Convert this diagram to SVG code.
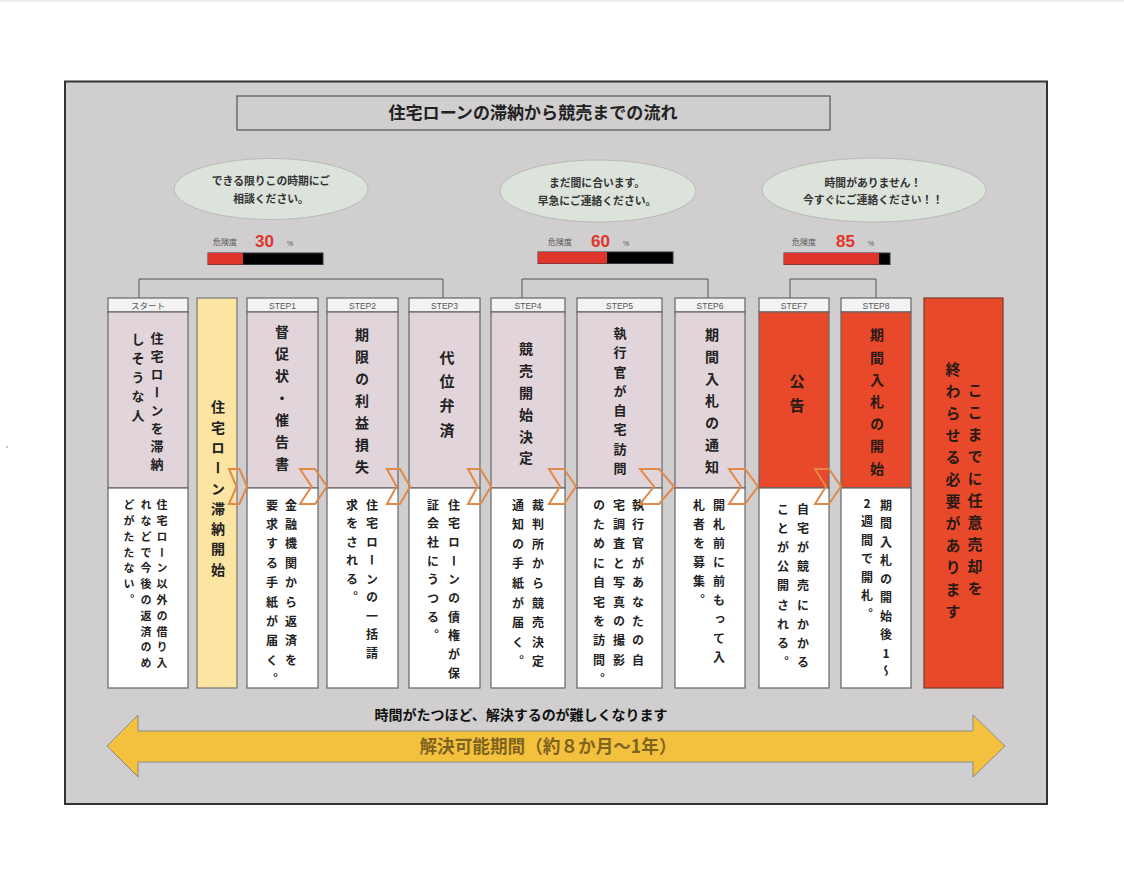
<svg xmlns="http://www.w3.org/2000/svg" width="1124" height="890" viewBox="0 0 1124 890">
<style>
.jp{font-family:"Noto Sans CJK JP","Noto Sans",sans-serif;}
.b{font-weight:bold;}
.vt{font-family:"Noto Sans CJK JP","Noto Sans",sans-serif;font-weight:bold;writing-mode:vertical-rl;fill:#222;}
.hd{fill:#f3f3f3;stroke:#666;stroke-width:1.2;}
.up{fill:#e1d4da;stroke:#666;stroke-width:1.2;}
.upr{fill:#e8492a;stroke:#666;stroke-width:1.2;}
.lo{fill:#ffffff;stroke:#666;stroke-width:1.2;}
.lbl{font-family:"Liberation Sans","Noto Sans CJK JP",sans-serif;font-size:8.5px;fill:#555;text-anchor:middle;}
.ell{fill:#dce3db;stroke:#b9b9b9;stroke-width:1;}
.et{font-family:"Noto Sans CJK JP",sans-serif;font-weight:bold;font-size:10.8px;fill:#333;text-anchor:middle;}
.gk{font-family:"Noto Sans CJK JP",sans-serif;font-size:8px;fill:#555;}
.gn{font-family:"Liberation Sans","Noto Sans",sans-serif;font-weight:bold;font-size:17px;fill:#e0352a;}
.gp{font-family:"Liberation Sans",sans-serif;font-size:7px;fill:#555;}
.chev{fill:none;stroke:#e2894a;stroke-width:2;stroke-linejoin:miter;}
.br{fill:none;stroke:#555;stroke-width:1;}
</style>
<rect x="0" y="0" width="1124" height="890" fill="#ffffff"/>
<rect x="0" y="0" width="1124" height="2" fill="#ececec"/>
<circle cx="7" cy="447" r="0.7" fill="#666"/>
<rect x="65" y="81.5" width="982" height="722.5" fill="#d0cecf" stroke="#333" stroke-width="2"/>

<g id="title">
<rect x="237" y="96" width="593" height="34" fill="#d0cecf" stroke="#555" stroke-width="1.2"/>
<text x="533" y="119" class="jp b" font-size="16.5" fill="#222" text-anchor="middle" textLength="289" lengthAdjust="spacingAndGlyphs">住宅ローンの滞納から競売までの流れ</text>
</g>

<g id="bubble1">
<ellipse cx="271" cy="189" rx="97" ry="30.5" class="ell"/>
<text x="271" y="185" class="et">できる限りこの時期にご</text>
<text x="271" y="203" class="et">相談ください。</text>
</g>
<g id="bubble2">
<ellipse cx="598" cy="191" rx="98" ry="31" class="ell"/>
<text x="597" y="187" class="et">まだ間に合います。</text>
<text x="597" y="205" class="et">早急にご連絡ください。</text>
</g>
<g id="bubble3">
<ellipse cx="874" cy="190" rx="112" ry="32" class="ell"/>
<text x="873" y="187" class="et">時間がありません！</text>
<text x="873" y="204" class="et">今すぐにご連絡ください！！</text>
</g>

<g id="gauge1">
<text x="213" y="245" class="gk">危険度</text>
<text x="255" y="247" class="gn">30</text>
<text x="287" y="246" class="gp">%</text>
<rect x="208" y="253" width="115" height="11.5" fill="#000" stroke="#334" stroke-width="1"/>
<rect x="208" y="253" width="35" height="11.5" fill="#e0352a"/>
</g>
<g id="gauge2">
<text x="548" y="245" class="gk">危険度</text>
<text x="591" y="247" class="gn">60</text>
<text x="623" y="246" class="gp">%</text>
<rect x="538" y="252" width="135" height="11.5" fill="#000" stroke="#334" stroke-width="1"/>
<rect x="538" y="252" width="69" height="11.5" fill="#e0352a"/>
</g>
<g id="gauge3">
<text x="792" y="245" class="gk">危険度</text>
<text x="836" y="247" class="gn">85</text>
<text x="868" y="246" class="gp">%</text>
<rect x="784" y="253" width="106" height="11.5" fill="#000" stroke="#334" stroke-width="1"/>
<rect x="784" y="253" width="95" height="11.5" fill="#e0352a"/>
</g>

<g id="connectors">
<polyline class="br" points="139,298 139,279 443,279 443,298"/>
<polyline class="br" points="522,298 522,279 708,279 708,298"/>
<polyline class="br" points="790,298 790,279 876,279 876,298"/>
</g>

<g id="start">
<rect x="108" y="298" width="80" height="14" class="hd"/>
<text x="148" y="308.5" class="lbl" style="font-family:'Noto Sans CJK JP',sans-serif">スタート</text>
<rect x="108" y="312" width="80" height="176" class="up"/>
<rect x="108" y="488" width="80" height="200" class="lo"/>
<text x="157" y="331.5" class="vt" font-size="13" letter-spacing="5">住宅ローンを滞納</text>
<text x="138" y="332.5" class="vt" font-size="13" letter-spacing="6">しそうな人</text>
<text x="162" y="499.5" class="vt" font-size="11" letter-spacing="4.8">住宅ローン以外の借り入</text>
<text x="146" y="499.5" class="vt" font-size="11" letter-spacing="4.8">れなどで今後の返済のめ</text>
<text x="129" y="499.5" class="vt" font-size="11" letter-spacing="4.8">どがたたない。</text>
</g>

<g id="delinquency">
<rect x="197" y="298" width="40" height="390" fill="#fce4a2" stroke="#777" stroke-width="1.2"/>
<text x="218" y="400" class="vt" font-size="14" letter-spacing="6.3">住宅ローン滞納開始</text>
</g>

<g id="step1">
<rect x="247" y="298" width="71" height="14" class="hd"/>
<text x="282.5" y="308.5" class="lbl">STEP1</text>
<rect x="247" y="312" width="71" height="176" class="up"/>
<rect x="247" y="488" width="71" height="200" class="lo"/>
<text x="282" y="325" class="vt" font-size="14" letter-spacing="8">督促状・催告書</text>
<text x="291" y="499" class="vt" font-size="12" letter-spacing="7.4">金融機関から返済を</text>
<text x="272" y="499" class="vt" font-size="12" letter-spacing="7.4">要求する手紙が届く。</text>
</g>

<g id="step2">
<rect x="327" y="298" width="71" height="14" class="hd"/>
<text x="362.5" y="308.5" class="lbl">STEP2</text>
<rect x="327" y="312" width="71" height="176" class="up"/>
<rect x="327" y="488" width="71" height="200" class="lo"/>
<text x="362" y="328" class="vt" font-size="14" letter-spacing="8">期限の利益損失</text>
<text x="372" y="499" class="vt" font-size="12" letter-spacing="6.5">住宅ローンの一括請</text>
<text x="352" y="499" class="vt" font-size="12" letter-spacing="6.5">求をされる。</text>
</g>

<g id="step3">
<rect x="409" y="298" width="71" height="14" class="hd"/>
<text x="444.5" y="308.5" class="lbl">STEP3</text>
<rect x="409" y="312" width="71" height="176" class="up"/>
<rect x="409" y="488" width="71" height="200" class="lo"/>
<text x="447" y="349.5" class="vt" font-size="15" letter-spacing="9.4">代位弁済</text>
<text x="454" y="499" class="vt" font-size="12" letter-spacing="6.7">住宅ローンの債権が保</text>
<text x="433" y="499" class="vt" font-size="12" letter-spacing="6.7">証会社にうつる。</text>
</g>

<g id="step4">
<rect x="491" y="298" width="74" height="14" class="hd"/>
<text x="528" y="308.5" class="lbl">STEP4</text>
<rect x="491" y="312" width="74" height="176" class="up"/>
<rect x="491" y="488" width="74" height="200" class="lo"/>
<text x="526" y="342" class="vt" font-size="14" letter-spacing="7.8">競売開始決定</text>
<text x="538" y="499" class="vt" font-size="12" letter-spacing="7.6">裁判所から競売決定</text>
<text x="518" y="499" class="vt" font-size="12" letter-spacing="7.6">通知の手紙が届く。</text>
</g>

<g id="step5">
<rect x="577" y="298" width="85" height="14" class="hd"/>
<text x="619.5" y="308.5" class="lbl">STEP5</text>
<rect x="577" y="312" width="85" height="176" class="up"/>
<rect x="577" y="488" width="85" height="200" class="lo"/>
<text x="620" y="326.5" class="vt" font-size="13" letter-spacing="6.3">執行官が自宅訪問</text>
<text x="638" y="499" class="vt" font-size="12" letter-spacing="7.4">執行官があなたの自</text>
<text x="619" y="499" class="vt" font-size="12" letter-spacing="7.4">宅調査と写真の撮影</text>
<text x="599" y="499" class="vt" font-size="12" letter-spacing="7.4">のために自宅を訪問。</text>
</g>

<g id="step6">
<rect x="675" y="298" width="70" height="14" class="hd"/>
<text x="710" y="308.5" class="lbl">STEP6</text>
<rect x="675" y="312" width="70" height="176" class="up"/>
<rect x="675" y="488" width="70" height="200" class="lo"/>
<text x="712" y="328" class="vt" font-size="14" letter-spacing="8">期間入札の通知</text>
<text x="719" y="499" class="vt" font-size="12" letter-spacing="7.1">開札前に前もって入</text>
<text x="699" y="499" class="vt" font-size="12" letter-spacing="7.1">札者を募集。</text>
</g>

<g id="step7">
<rect x="759" y="298" width="70" height="14" class="hd"/>
<text x="794" y="308.5" class="lbl">STEF7</text>
<rect x="759" y="312" width="70" height="176" class="upr"/>
<rect x="759" y="488" width="70" height="200" class="lo"/>
<text x="797" y="373.5" class="vt" font-size="15" letter-spacing="9" style="fill:#2a1a15">公告</text>
<text x="803" y="503" class="vt" font-size="12" letter-spacing="7.2">自宅が競売にかかる</text>
<text x="783" y="503" class="vt" font-size="12" letter-spacing="7.2">ことが公開される。</text>
</g>

<g id="step8">
<rect x="841" y="298" width="70" height="14" class="hd"/>
<text x="876" y="308.5" class="lbl">STEP8</text>
<rect x="841" y="312" width="70" height="176" class="upr"/>
<rect x="841" y="488" width="70" height="200" class="lo"/>
<text x="877" y="328" class="vt" font-size="14" letter-spacing="8.2" style="fill:#2a1a15">期間入札の開始</text>
<text x="886" y="499" class="vt" font-size="12" letter-spacing="6.5" style="text-orientation:upright">期間入札の開始後1～</text>
<text x="867" y="497" class="vt" font-size="12" letter-spacing="6.5" style="text-orientation:upright">2週間で開札。</text>
</g>

<g id="final">
<rect x="924" y="298" width="79" height="390" fill="#e8492a" stroke="#7a3a28" stroke-width="1.2"/>
<text x="975" y="382.5" class="vt" font-size="15" letter-spacing="7" style="fill:#2a1a15">ここまでに任意売却を</text>
<text x="953" y="361.5" class="vt" font-size="15" letter-spacing="7" style="fill:#2a1a15">終わらせる必要があります</text>
</g>

<g id="chevrons">
<polygon class="chev" points="229,469 239.5,469 247,486.5 239.5,504 229,504 236.5,486.5"/>
<polygon class="chev" points="300,469 315,469 327,486.5 315,504 300,504 311.5,486.5"/>
<polygon class="chev" points="387,469 400,469 410,486.5 400,504 387,504 396.5,486.5"/>
<polygon class="chev" points="468,469 480.5,469 491,486.5 480.5,504 468,504 477.5,486.5"/>
<polygon class="chev" points="549,469 564,469 576,486.5 564,504 549,504 560,486.5"/>
<polygon class="chev" points="640,469 659,469 674,486.5 659,504 640,504 654,486.5"/>
<polygon class="chev" points="729,469 745,469 758,486.5 745,504 729,504 741,486.5"/>
<polygon class="chev" points="815,469 829,469 841,486.5 829,504 815,504 826,486.5"/>
</g>

<g id="period">
<text x="521" y="720" class="jp b" font-size="13.5" fill="#111" text-anchor="middle" textLength="293" lengthAdjust="spacingAndGlyphs">時間がたつほど、解決するのが難しくなります</text>
<polygon points="107,746 138,715 138,731 973,731 973,715 1005,746 973,777 973,762 138,762 138,777" fill="#f4c13e" stroke="#8a8a8a" stroke-width="1"/>
<text x="548" y="753" class="jp b" font-size="18" fill="#7f6420" text-anchor="middle" textLength="257" lengthAdjust="spacingAndGlyphs">解決可能期間（約８か月～1年）</text>
</g>
</svg>
